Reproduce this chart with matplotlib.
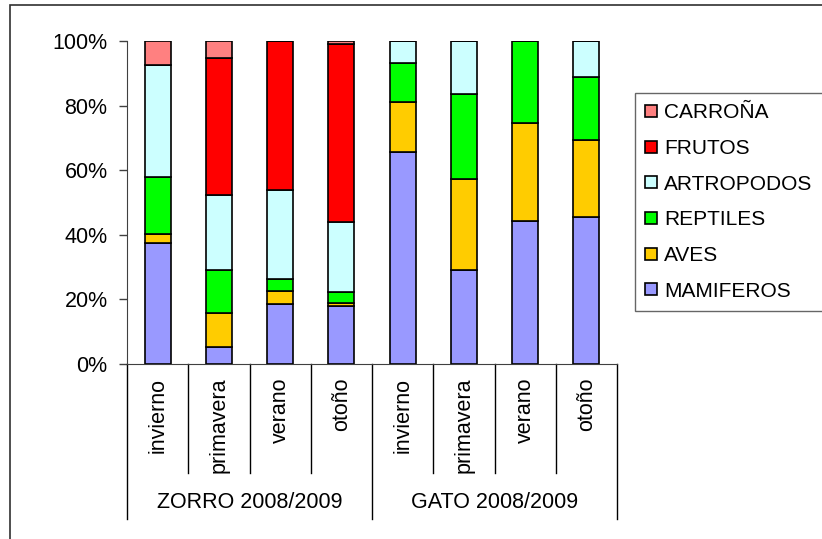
import matplotlib
matplotlib.use("Agg")
import matplotlib.pyplot as plt
import matplotlib.transforms as mtransforms
from matplotlib.patches import Rectangle
import numpy as np

plt.rcParams['font.family'] = ['Liberation Sans', 'DejaVu Sans']

# dieta (% de ocurrencia) por estacion
estaciones = ["invierno", "primavera", "verano", "otoño",
              "invierno", "primavera", "verano", "otoño"]
grupos = ["ZORRO 2008/2009", "GATO 2008/2009"]

mamiferos = [37.6, 5.4, 18.6, 18.0, 65.6, 29.2, 44.4, 45.5]
aves = [2.7, 10.5, 4.1, 1.0, 15.4, 28.0, 30.3, 23.8]
reptiles = [17.5, 13.3, 3.7, 3.3, 12.2, 26.5, 25.3, 19.6]
artropodos = [34.9, 23.2, 27.5, 21.6, 6.8, 16.3, 0.0, 11.1]
frutos = [0.0, 42.2, 46.1, 55.2, 0.0, 0.0, 0.0, 0.0]
carrona = [7.3, 5.4, 0.0, 0.9, 0.0, 0.0, 0.0, 0.0]

series = [
    ("MAMIFEROS", mamiferos, "#9999FF"),
    ("AVES", aves, "#FFCC00"),
    ("REPTILES", reptiles, "#00FF00"),
    ("ARTROPODOS", artropodos, "#CCFFFF"),
    ("FRUTOS", frutos, "#FF0000"),
    ("CARROÑA", carrona, "#FF8080"),
]

fig = plt.figure(figsize=(8.22, 5.39), dpi=100)
ax = fig.add_axes([127 / 822, 1 - 364 / 539, 490 / 822, 323 / 539])

x = np.arange(len(estaciones))
base = np.zeros(len(estaciones))
for nombre, vals, color in series:
    vals = np.array(vals)
    ax.bar(x, vals, 0.425, bottom=base, color=color, edgecolor="black",
           linewidth=1.2, label=nombre)
    base += vals

ax.set_xlim(-0.5, len(estaciones) - 0.5)
ax.set_ylim(0, 100)
ax.set_yticks(np.arange(0, 101, 20))
ax.set_yticklabels([f"{v}%" for v in range(0, 101, 20)], fontsize=15.5)
ax.tick_params(axis="y", length=6, width=1, pad=8, color="#404040")

ax.set_xticks(x)
ax.set_xticklabels(estaciones, rotation=90, fontsize=15.5)
ax.tick_params(axis="x", length=0, pad=10)

for s in ["top", "right"]:
    ax.spines[s].set_visible(False)
ax.spines["left"].set_color("#404040")
ax.spines["bottom"].set_color("#404040")

# separadores del eje de categorias
trans = mtransforms.blended_transform_factory(ax.transData, ax.transAxes)
for b in np.arange(-0.5, len(estaciones), 1.0):
    if b in (-0.5, 3.5, 7.5):
        y0 = -0.48
    else:
        y0 = -0.3375
    ax.plot([b, b], [0, y0], color="black", lw=1, transform=trans, clip_on=False)

for i, g in enumerate(grupos):
    ax.text(1.5 + 4 * i, -0.43, g, transform=trans, ha="center", va="center",
            fontsize=15.5)

handles, labels = ax.get_legend_handles_labels()
leg = fig.legend(handles[::-1], labels[::-1], loc="upper left",
                 bbox_to_anchor=(635 / 822, 1 - 93 / 539),
                 bbox_transform=fig.transFigure, borderaxespad=0,
                 fontsize=15, frameon=True, fancybox=False,
                 handlelength=0.55, handleheight=0.5, handletextpad=0.35,
                 labelspacing=0.8, borderpad=0.5)
leg.get_frame().set_edgecolor("#404040")
leg.get_frame().set_linewidth(1)

# marco del grafico
fig.patches.append(Rectangle((10 / 822, -0.1), 1.2, 1.1 - 5 / 539,
                             transform=fig.transFigure, fill=False,
                             edgecolor="#303030", lw=1.2))

fig.savefig("out.png", dpi=100)
